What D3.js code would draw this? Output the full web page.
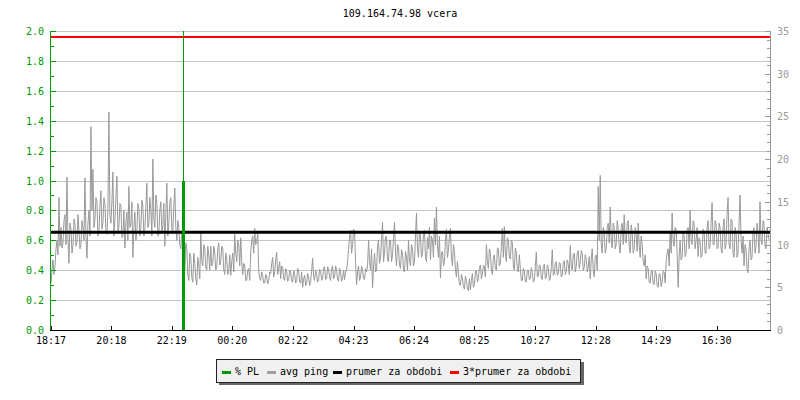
<!DOCTYPE html>
<html><head><meta charset="utf-8">
<script src="https://cdn.jsdelivr.net/npm/d3@7"></script>
<style>
html,body{margin:0;padding:0;background:#fff;}
svg{display:block;}
text{font-family:"DejaVu Sans Mono",monospace;font-size:10px;}
</style></head>
<body>
<svg id="c" width="800" height="400"></svg>
<script>
// ---- data ----
const title = "109.164.74.98 vcera";
const sampleMinutes = 2; // one sample every 2 minutes, 24 h span
// avg ping (ms), even samples
const pingEven = [
5.5,8.2,7.4,10.5,15.5, 12.0,10.2,13.5,17.9,7.8, 11.8,9.9,12.4,10.3,11.6, 10.0,12.0,17.8,8.4,14.0,
23.8,18.8,13.0,15.0,11.5, 16.3,12.5,14.8,11.2,25.5, 12.5,18.5,13.0,18.0,12.0, 14.5,11.0,9.6,13.8,16.8,
12.5,8.5,13.8,11.5,14.2, 12.0,14.5,11.8,17.2,12.5, 14.0,20.0,12.0,14.8,11.2, 15.0,12.3,9.8,17.2,12.5,
15.5,11.5,16.6,10.5,12.0, 9.5,10.8,7.0,9.5,5.8, 8.5,5.6,7.8,5.3,7.5, 11.3,7.5,9.5,7.0,8.8,
9.8,7.8,9.0,7.4,10.2, 8.0,9.6,6.5,8.2,6.8, 6.4,9.0,11.2,8.0,10.0, 10.8,6.5,7.6,5.8,7.2,
9.0,11.0,11.9,10.2,7.0, 5.8,6.4,5.5,6.2,5.8, 6.6,8.5,6.8,9.1,7.2, 6.0,7.3,5.8,6.8,5.9,
6.8,5.6,6.5,5.8,6.9, 5.5,5.0,6.4,5.4,6.2, 5.7,8.4,5.8,6.6,5.9, 6.9,6.0,7.4,6.0,7.2,
5.8,7.5,6.3,7.0,5.7, 6.8,6.0,5.9,6.9,9.5, 11.7,10.0,11.5,5.3,7.5, 6.2,7.0,5.9,6.8,10.5,
7.0,4.9,9.0,7.0,10.5, 8.5,12.6,9.0,10.8,8.0, 10.5,8.8,12.6,7.5,9.6, 7.2,9.0,6.8,8.5,10.5,
7.5,9.5,8.0,13.7,8.5, 11.0,8.9,11.7,8.0,9.5, 8.2,10.5,13.1,14.4,8.5, 6.1,9.2,8.0,11.8,9.3,
11.9,7.5,9.2,6.2,6.6, 5.2,6.1,4.8,5.8,4.6, 4.7,6.6,5.4,7.0,6.0, 7.6,6.5,7.4,10.0,7.2,
9.0,6.5,8.8,7.0,9.5, 7.8,11.9,12.1,8.0,10.5, 8.3,10.2,7.0,9.0,6.8, 7.2,5.8,6.9,5.6,7.0,
6.0,6.6,5.8,9.1,6.3, 7.5,5.9,7.7,6.2,7.3, 6.0,9.4,6.5,8.0,6.6, 7.8,6.4,8.1,6.9,7.7,
9.9,7.0,9.0,7.5,9.3, 8.0,9.0,7.3,8.3,7.4, 6.0,9.5,6.2,8.8,16.8, 18.1,9.0,11.5,9.5,12.5,
14.4,9.6,12.0,10.0,11.8, 9.0,12.5,13.5,10.2,12.8, 9.0,11.5,9.5,11.2,12.5, 8.5,10.0,7.5,6.0,7.2,
5.5,7.0,5.3,6.6,5.0, 6.5,5.6,6.8,8.0,9.5, 11.5,13.7,9.8,11.8,5.0, 10.5,8.5,11.0,9.0,12.0,
14.0,10.0,12.5,10.5,8.6, 10.3,8.8,11.5,9.0,12.8, 9.8,14.9,10.0,12.5,9.6, 12.0,9.0,13.0,10.0,15.5,
9.5,12.8,8.5,11.5,9.0, 15.8,9.0,7.5,9.5,6.7, 10.5,8.5,12.0,9.8,11.5, 15.0,10.0,12.5,9.5,11.5
];
// avg ping (ms), odd samples
const pingOdd = [
7.0,6.5,9.5,8.8,9.8, 9.6,12.8,10.0,10.5,12.5, 9.0,13.0,9.8,13.5,9.5, 12.8,10.5,11.0,12.5,11.0,
14.0,12.0,15.5,11.0,14.5, 11.8,15.5,11.5,14.0,13.5, 15.0,11.0,15.5,11.5,14.8, 10.8,14.0,12.5,10.5,12.0,
15.0,12.0,10.5,14.8,11.0, 15.2,11.0,14.5,12.0,15.5, 11.0,13.0,15.8,11.0,14.0, 11.5,14.8,13.5,11.0,15.0,
11.8,14.5,12.0,12.8,10.0, 11.5,8.0,10.2,6.5,9.0, 6.2,9.0,6.0,8.5,6.0, 8.0,10.0,7.2,9.8,7.0,
7.5,9.8,7.0,9.5,7.6, 9.8,7.0,9.0,6.5,8.8, 8.0,6.8,9.0,10.5,7.5, 8.0,7.8,5.8,7.0,5.8,
10.5,9.0,10.0,11.5,6.0, 6.8,5.5,6.5,5.4,6.8, 7.8,6.2,8.2,6.5,8.0, 7.5,6.0,7.2,5.7,7.0,
5.7,6.9,5.5,7.2,5.6, 6.8,6.0,5.2,6.6,5.2, 6.9,6.2,7.0,5.6,7.1, 5.8,7.3,5.9,7.4,6.1,
7.2,6.0,7.5,5.9,7.2, 5.7,7.0,6.9,8.0,11.0, 9.0,11.8,8.0,6.8,5.8, 7.5,6.0,7.2,7.5,8.0,
9.5,7.5,6.8,9.8,7.8, 10.5,8.0,11.0,8.2,10.5, 8.0,10.8,9.0,10.0,7.6, 9.4,7.0,9.2,7.0,8.2,
10.0,7.5,11.0,9.5,11.5, 8.5,11.2,8.5,10.8,12.0, 11.0,8.5,10.0,9.8,11.0, 9.0,7.5,10.5,8.5,11.0,
8.5,10.0,7.0,8.0,5.3, 6.5,5.0,6.3,4.9,6.0, 5.8,5.0,6.8,5.6,7.3, 6.0,7.6,6.2,8.0,9.5,
7.0,8.5,7.2,9.6,7.5, 9.8,8.5,9.0,10.8,8.5, 10.5,7.5,9.6,7.0,8.8, 5.8,7.2,5.7,7.0,5.9,
7.3,5.6,7.5,6.2,7.6, 6.0,7.4,6.0,7.6,5.8, 7.4,6.4,7.8,6.4,7.9, 6.2,7.9,6.5,8.2,6.5,
7.4,8.8,6.8,9.0,7.2, 9.3,7.0,8.8,6.8,8.6, 8.2,7.0,8.5,7.0,10.5, 10.0,12.0,9.0,12.0,10.2,
10.5,12.5,9.5,12.8,9.8, 12.0,10.0,10.5,12.5,9.8, 12.3,9.0,12.0,9.2,10.0, 11.0,8.0,8.8,7.5,5.6,
6.8,5.4,6.9,5.2,6.6, 5.1,6.9,5.5,9.0,7.5, 9.0,10.5,12.0,9.0,8.5, 8.2,11.5,8.6,11.8,9.5,
10.5,12.8,9.5,12.0,10.8, 8.5,11.8,9.0,12.0,9.5, 12.5,10.0,12.8,9.5,12.5, 9.5,12.0,9.5,13.5,10.0,
13.0,9.0,12.0,8.5,12.5, 10.5,11.0,10.0,7.2,9.5, 8.2,11.5,9.0,12.5,9.0, 10.5,12.8,9.8,12.0,10.5
];
const meanPing = 11.43;              // "prumer za obdobi" (ms)
const plMinutes = [264];             // packet loss samples (minutes from start)
const plValues = [1.0];              // % PL
const plRuleMinutes = [264];         // full-height loss marker
const xTickMinutes = [0,121,242,363,485,606,727,848,970,1091,1212,1333];
const xTickLabels = ["18:17","20:18","22:19","00:20","02:22","04:23","06:24","08:25","10:27","12:28","14:29","16:30"];
const leftTicks = [0,0.2,0.4,0.6,0.8,1.0,1.2,1.4,1.6,1.8,2.0];
const rightTicks = [0,5,10,15,20,25,30,35];
const legendItems = [
  {label:"% PL", color:"#009900"},
  {label:"avg ping", color:"#a0a0a0"},
  {label:"prumer za obdobi", color:"#000000"},
  {label:"3*prumer za obdobi", color:"#ff0000"}
];

// ---- layout ----
const L = 51, R = 770, T = 31, B = 330;
const svg = d3.select("#c");
const x = d3.scaleLinear().domain([0,1440]).range([L,R]);
const yL = d3.scaleLinear().domain([0,2]).range([B,T]);
const yR = d3.scaleLinear().domain([0,35]).range([B,T]);
const green = "#009900", gridC = "#c4c4c4", axisGray = "#9a9a9a";
const px = v => Math.round(v) + 0.5;
const pingMs = d3.merge(pingEven.map((v,i)=>[v, pingOdd[i]]));

// title
svg.append("text").attr("x",400).attr("y",17).attr("text-anchor","middle").attr("fill","#000").text(title);

// gridlines
svg.append("g").selectAll("line").data(leftTicks.filter(d=>d>0)).join("line")
  .attr("x1",L).attr("x2",R).attr("y1",d=>px(yL(d))).attr("y2",d=>px(yL(d)))
  .attr("stroke",gridC).attr("stroke-width",1).attr("shape-rendering","crispEdges");

// ping line
const line = d3.line().x((d,i)=>x(i*sampleMinutes)).y(d=>yR(d));
svg.append("path").datum(pingMs).attr("d",line).attr("fill","none")
  .attr("stroke","#999999").attr("stroke-width",1);

// mean lines
svg.append("line").attr("x1",L).attr("x2",R).attr("y1",yR(meanPing)).attr("y2",yR(meanPing))
  .attr("stroke","#000").attr("stroke-width",3);
svg.append("line").attr("x1",L).attr("x2",R).attr("y1",yR(3*meanPing)).attr("y2",yR(3*meanPing))
  .attr("stroke","#ff0000").attr("stroke-width",2);

// PL
svg.append("g").selectAll("line.rule").data(plRuleMinutes).join("line")
  .attr("x1",d=>px(x(d))).attr("x2",d=>px(x(d))).attr("y1",T).attr("y2",B)
  .attr("stroke",green).attr("stroke-width",1).attr("shape-rendering","crispEdges");
svg.append("g").selectAll("line.pl").data(plValues).join("line")
  .attr("x1",(d,i)=>px(x(plMinutes[i]))).attr("x2",(d,i)=>px(x(plMinutes[i])))
  .attr("y1",B).attr("y2",d=>yL(d))
  .attr("stroke",green).attr("stroke-width",3).attr("shape-rendering","crispEdges");

// left axis (green)
svg.append("line").attr("x1",px(L)-1).attr("x2",px(L)-1).attr("y1",T).attr("y2",B)
  .attr("stroke",green).attr("shape-rendering","crispEdges");
const leftMinor = d3.range(0,21).map(d=>d/10);
svg.append("g").selectAll("line").data(leftMinor).join("line")
  .attr("x1",L-1).attr("x2",(d,i)=> i%2===0 ? L+5 : L+3)
  .attr("y1",d=>px(yL(d))).attr("y2",d=>px(yL(d)))
  .attr("stroke",green).attr("shape-rendering","crispEdges");
svg.append("g").selectAll("text").data(leftTicks).join("text")
  .attr("x",44).attr("y",d=>yL(d)+4).attr("text-anchor","end").attr("fill",green)
  .text(d=>d3.format(".1f")(d));

// right axis (gray)
svg.append("line").attr("x1",px(R)).attr("x2",px(R)).attr("y1",T).attr("y2",B)
  .attr("stroke",axisGray).attr("shape-rendering","crispEdges");
const rightMinor = d3.range(0,36);
svg.append("g").selectAll("line").data(rightMinor).join("line")
  .attr("x1",R+1).attr("x2",d=> d%5===0 ? R-5 : R-3)
  .attr("y1",d=>px(yR(d))).attr("y2",d=>px(yR(d)))
  .attr("stroke",axisGray).attr("shape-rendering","crispEdges");
svg.append("g").selectAll("text").data(rightTicks).join("text")
  .attr("x",777).attr("y",d=>yR(d)+4).attr("text-anchor","start").attr("fill",axisGray)
  .text(d=>d);

// bottom axis
svg.append("line").attr("x1",L-1).attr("x2",R+1).attr("y1",px(B)).attr("y2",px(B))
  .attr("stroke","#000").attr("shape-rendering","crispEdges");
svg.append("g").selectAll("line").data(xTickMinutes).join("line")
  .attr("x1",d=>px(x(d))).attr("x2",d=>px(x(d))).attr("y1",B-4).attr("y2",B)
  .attr("stroke","#000").attr("shape-rendering","crispEdges");
svg.append("g").selectAll("text").data(xTickMinutes).join("text")
  .attr("x",d=>x(d)).attr("y",344).attr("text-anchor","middle").attr("fill","#000")
  .text((d,i)=>xTickLabels[i]);

// legend
const lg = svg.append("g");
lg.append("rect").attr("x",219).attr("y",362).attr("width",365).attr("height",23).attr("fill","#666").attr("shape-rendering","crispEdges");
lg.append("rect").attr("x",216.5).attr("y",359.5).attr("width",364).attr("height",23)
  .attr("fill","#f0f0f0").attr("stroke","#222").attr("shape-rendering","crispEdges");
const legendX = [222, 267, 333, 450];
legendItems.forEach((it,i)=>{
  lg.append("line").attr("x1",legendX[i]).attr("x2",legendX[i]+9).attr("y1",372).attr("y2",372)
    .attr("stroke",it.color).attr("stroke-width",3).attr("shape-rendering","crispEdges");
  lg.append("text").attr("x",legendX[i]+13).attr("y",375).attr("fill","#000").text(it.label);
});
</script>
</body></html>
